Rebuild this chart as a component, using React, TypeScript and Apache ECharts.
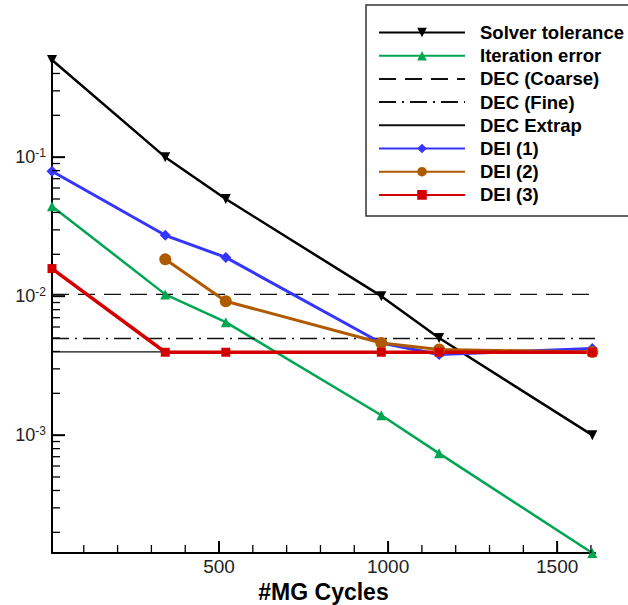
import React, { useEffect, useRef } from 'react';
import * as echarts from 'echarts';

const FONT = '"Liberation Sans", Arial, Helvetica, sans-serif';

// MG cycle positions
const cycles = [6, 341, 520, 980, 1151, 1604];
const dei2Cycles = [341, 520, 980, 1151, 1604];

// series values
const solverTolerance = [0.5, 0.1, 0.05, 0.01, 0.005, 0.001];
const iterationError = [0.0444, 0.0103, 0.0065, 0.00139, 0.00074, 0.000142];
const dei1 = [0.0792, 0.0274, 0.019, 0.0046, 0.0038, 0.0042];
const dei2 = [0.0184, 0.0092, 0.0046, 0.00413, 0.00397];
const dei3 = [0.0158, 0.00395, 0.00395, 0.00395, 0.00395, 0.00395];

// reference levels
const decCoarse = 0.0103;
const decFine = 0.00496;
const decExtrap = 0.00398;

// axis ranges and ticks
const xRange = [6, 1612];
const yRange = [0.000142, 0.5];
const xMajorTicks = [500, 1000, 1500];
const xMinorTicks = [100, 200, 300, 400, 600, 700, 800, 900, 1100, 1200, 1300, 1400, 1600];
const yMajorTicks = [0.001, 0.01, 0.1];
const yMinorTicks = [
  0.0002, 0.0003, 0.0004, 0.0005, 0.0006, 0.0007, 0.0008, 0.0009,
  0.002, 0.003, 0.004, 0.005, 0.006, 0.007, 0.008, 0.009,
  0.02, 0.03, 0.04, 0.05, 0.06, 0.07, 0.08, 0.09,
  0.2, 0.3, 0.4,
];

const names = [
  'Solver tolerance',
  'Iteration error',
  'DEC (Coarse)',
  'DEC (Fine)',
  'DEC Extrap',
  'DEI (1)',
  'DEI (2)',
  'DEI (3)',
];

const pairs = (xs: number[], ys: number[]) => xs.map((x, i) => [x, ys[i]]);
const level = (v: number) => [[xRange[0], v], [xRange[1], v]];

export default function App() {
  const ref = useRef<HTMLDivElement>(null);

  useEffect(() => {
    if (!ref.current) return;
    const chart = echarts.init(ref.current, undefined, { renderer: 'svg' });

    const tickData: any[] = [];
    xMajorTicks.forEach((v) => tickData.push([v, yRange[0], 0]));
    xMinorTicks.forEach((v) => tickData.push([v, yRange[0], 1]));
    yMajorTicks.forEach((v) => tickData.push([xRange[0], v, 2]));
    yMinorTicks.forEach((v) => tickData.push([xRange[0], v, 3]));

    const mk = (
      name: string,
      data: number[][],
      color: string,
      width: number,
      symbol: string,
      size: number,
      extra: any = {}
    ) => ({
      name,
      type: 'line',
      data,
      symbol,
      symbolSize: size,
      showSymbol: true,
      lineStyle: { color, width },
      itemStyle: { color },
      ...extra,
    });

    const decLine = (name: string, v: number, type: any) => ({
      name,
      type: 'line',
      data: level(v),
      symbol: 'none',
      lineStyle: { color: '#111', width: 1.3, type },
      itemStyle: { color: 'rgba(0,0,0,0)' },
    });

    chart.setOption({
      animation: false,
      textStyle: { fontFamily: FONT },
      grid: { left: 52, right: 33, top: 60, bottom: 52, containLabel: false, outerBoundsMode: 'none' },
      legend: {
        data: names,
        orient: 'vertical',
        left: 366,
        top: 5,
        padding: [18, 40, 11.5, 12],
        itemWidth: 86,
        itemHeight: 12,
        itemGap: 4.2,
        borderColor: '#333',
        borderWidth: 1.5,
        backgroundColor: '#fff',
        selectedMode: false,
        textStyle: {
          fontSize: 18.5,
          fontWeight: 'bold',
          color: '#000',
          fontFamily: FONT,
          lineHeight: 19,
          padding: [0, 0, 0, 10],
        },
      },
      xAxis: {
        type: 'value',
        min: xRange[0],
        max: xRange[1],
        splitLine: { show: false },
        axisTick: { show: false },
        axisLine: { show: true, lineStyle: { color: '#000', width: 2 } },
        axisLabel: {
          customValues: xMajorTicks,
          formatter: (v: number) => String(v),
          fontSize: 19,
          color: '#222',
          margin: 4,
          fontFamily: FONT,
        },
        name: '#MG Cycles',
        nameLocation: 'middle',
        nameGap: 17,
        nameTextStyle: { fontSize: 23, fontWeight: 'bold', color: '#000', fontFamily: FONT },
      },
      yAxis: {
        type: 'log',
        logBase: 10,
        min: yRange[0],
        max: yRange[1],
        splitLine: { show: false },
        minorTick: { show: false },
        axisTick: { show: false },
        axisLine: { show: true, lineStyle: { color: '#000', width: 2 } },
        axisLabel: {
          customValues: yMajorTicks,
          margin: 6,
          formatter: (v: number) => `{b|10}{s|${Math.round(Math.log10(v))}}`,
          rich: {
            b: { fontSize: 18, color: '#222', fontFamily: FONT, lineHeight: 20 },
            s: { fontSize: 12, color: '#222', fontFamily: FONT, verticalAlign: 'top', lineHeight: 12 },
          },
        },
      },
      series: [
        mk('Solver tolerance', pairs(cycles, solverTolerance), '#000000', 2.5, 'triangle', 10, { symbolRotate: 180 }),
        mk('Iteration error', pairs(cycles, iterationError), '#00a651', 2.5, 'triangle', 10),
        decLine('DEC (Coarse)', decCoarse, [17, 9]),
        decLine('DEC (Fine)', decFine, [17, 6, 2, 6]),
        decLine('DEC Extrap', decExtrap, 'solid'),
        mk('DEI (1)', pairs(cycles, dei1), '#3535ff', 3, 'diamond', 11),
        mk('DEI (2)', pairs(dei2Cycles, dei2), '#b05a00', 3, 'circle', 12),
        mk('DEI (3)', pairs(cycles, dei3), '#d40000', 3.5, 'rect', 9),
        {
          type: 'custom',
          silent: true,
          clip: false,
          z: 5,
          encode: { x: 0, y: 1 },
          data: tickData,
          renderItem: (params: any, api: any) => {
            const kind = api.value(2);
            const p = api.coord([api.value(0), api.value(1)]);
            let shape;
            let lw = 1.3;
            if (kind === 0) { shape = { x1: p[0], y1: p[1], x2: p[0], y2: p[1] - 12 }; lw = 2; }
            else if (kind === 1) { shape = { x1: p[0], y1: p[1], x2: p[0], y2: p[1] - 8 }; }
            else if (kind === 2) { shape = { x1: p[0], y1: p[1], x2: p[0] + 13, y2: p[1] }; lw = 2; }
            else { shape = { x1: p[0], y1: p[1], x2: p[0] + 8, y2: p[1] }; }
            return { type: 'line', shape, style: { stroke: '#000', lineWidth: lw } };
          },
        },
      ],
    });

    return () => chart.dispose();
  }, []);

  return (
    <div
      ref={ref}
      style={{ position: 'fixed', left: 0, top: 0, width: 628, height: 605, background: '#fff' }}
    />
  );
}
